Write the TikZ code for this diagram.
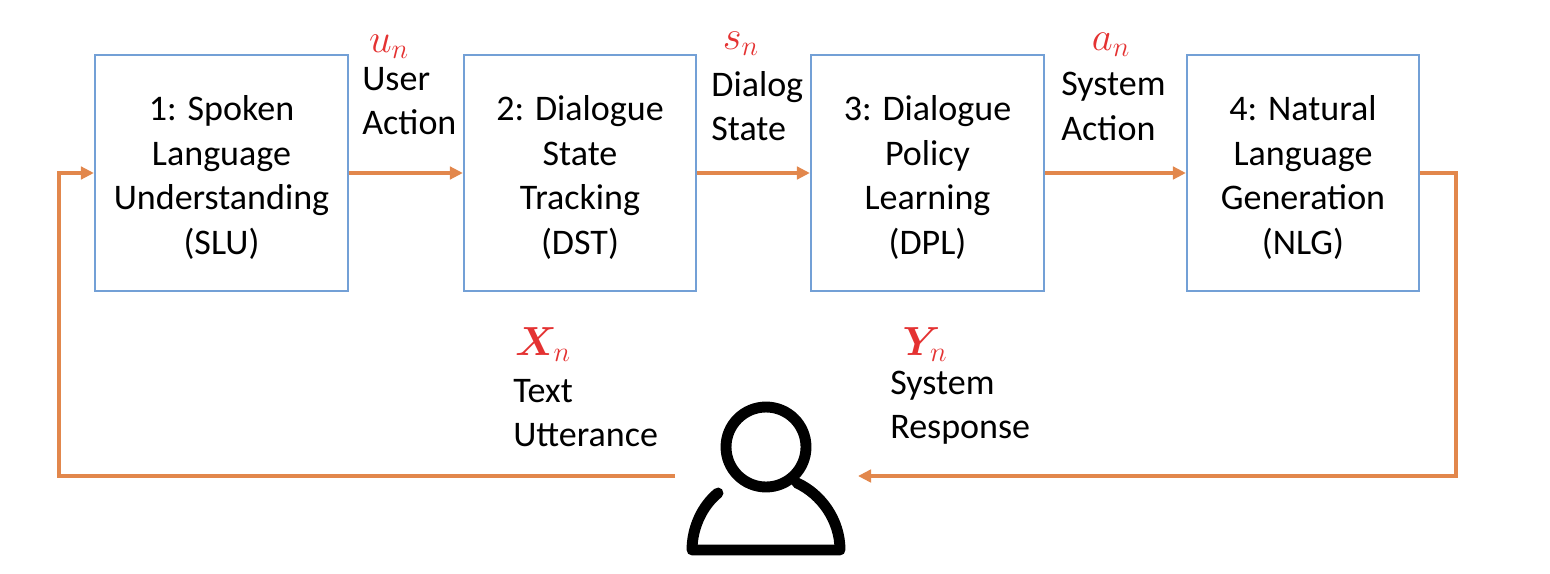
\documentclass[tikz,border=0pt]{standalone}
\usepackage{fontspec}
\usepackage{amsmath,bm}
\setmainfont{Carlito}
\definecolor{boxblue}{RGB}{115,160,214}
\definecolor{flowred}{RGB}{228,50,50}
\definecolor{floworange}{RGB}{226,135,76}
\newcommand{\topgap}{\rule{0pt}{19.5pt}}
\usetikzlibrary{arrows.meta,positioning,calc}

\begin{document}
\begin{tikzpicture}[x=0.02cm,y=-0.02cm,
    stagebox/.style={draw=boxblue, line width=1.3pt, align=center, font=\fontsize{20.5}{25.3}\selectfont, minimum height=4.72cm},
    flowlabel/.style={align=left, anchor=west, inner sep=0pt, font=\fontsize{20.5}{25.3}\selectfont},
    varlabel/.style={text=flowred, inner sep=0pt, scale=0.93, font=\fontsize{24}{28}\selectfont},
    flowline/.style={draw=floworange, line width=1.8pt, -{Triangle[length=0.26cm,width=0.25cm]}}]
    \useasboundingbox (0,0) rectangle (1550,574);
    % pipeline stages
    \node[stagebox, minimum width=5.06cm] (slu) at (221.5,173) {\topgap 1: Spoken\\Language\\Understanding\\(SLU)};
    \node[stagebox, minimum width=4.64cm] (dst) at (580,173) {\topgap 2: Dialogue\\State\\Tracking\\(DST)};
    \node[stagebox, minimum width=4.66cm] (dpl) at (927.5,173) {\topgap 3: Dialogue\\Policy\\Learning\\(DPL)};
    \node[stagebox, minimum width=4.64cm] (nlg) at (1303,173) {\topgap 4: Natural\\Language\\Generation\\(NLG)};
    \draw[flowline] (slu) -- (dst);
    \draw[flowline] (dst) -- (dpl);
    \draw[flowline] (dpl) -- (nlg);
    % labels above the arrows
    \node[varlabel] (un) at (389,47) {$u_n$};
    \node[flowlabel] (useract) at (362,101) {User\\Action};
    \node[varlabel] (sn) at (741,44) {$s_n$};
    \node[flowlabel] (dialogst) at (711,106) {Dialog\\State};
    \node[varlabel] (an) at (1111,45) {$a_n$};
    \node[flowlabel] (sysact) at (1061,106.5) {System\\Action};
    \node[varlabel] (xn) at (543,345) {$\bm{X}_n$};
    \node[flowlabel] (textutt) at (513,413) {Text\\Utterance};
    \node[varlabel] (yn) at (925,345) {$\bm{Y}_n$};
    \node[flowlabel] (sysresp) at (890,407.5) {System\\Response};
    % user icon
    \node[circle, draw=black, line width=6.2pt, minimum size=1.6cm, inner sep=0pt] (user) at (766,447) {};
    \draw[line width=6.2pt, line cap=round, line join=round]
        (797,483) .. controls (821,494) and (840,520) .. (840,550) -- (692,550)
        .. controls (692,528) and (702,506) .. (718,493);
    % feedback loop
    \coordinate (userout) at (675,476);
    \coordinate (userin) at (858,476);
    \draw[flowline] (nlg.east) -- (1456,173) -- (1456,476) -- (userin);
    \draw[flowline] (userout) -- (59,476) -- (59,173) -- (slu.west);
\end{tikzpicture}
\end{document}
